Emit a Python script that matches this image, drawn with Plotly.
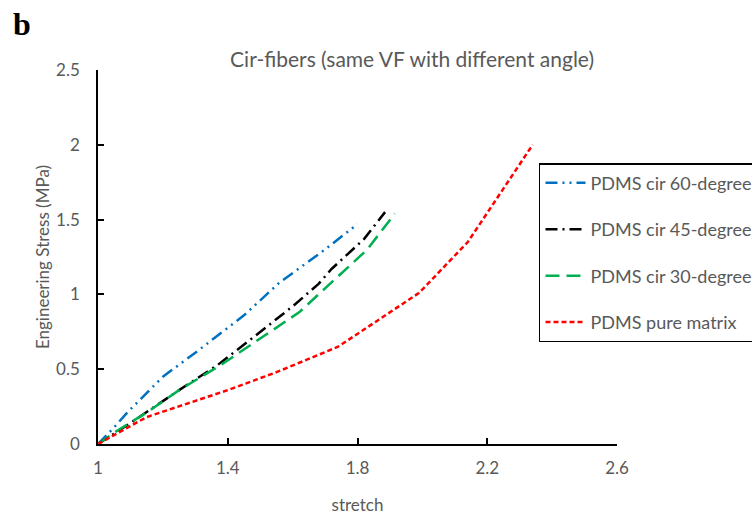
import plotly.graph_objects as go

# Stretch / engineering stress curves for circular-fiber PDMS composites
stretch_60 = [1.0, 1.045, 1.09, 1.2, 1.3, 1.45, 1.56, 1.7, 1.8]
stress_60 = [0.0, 0.10, 0.21, 0.45, 0.61, 0.86, 1.08, 1.30, 1.47]

stretch_45 = [1.0, 1.1, 1.25, 1.37, 1.48, 1.6, 1.68, 1.72, 1.82, 1.885]
stress_45 = [0.0, 0.14, 0.36, 0.53, 0.715, 0.92, 1.07, 1.17, 1.37, 1.55]

stretch_30 = [1.0, 1.06, 1.15, 1.25, 1.38, 1.48, 1.62, 1.72, 1.83, 1.915]
stress_30 = [0.0, 0.09, 0.21, 0.36, 0.53, 0.675, 0.88, 1.08, 1.30, 1.54]

stretch_pure = [1.0, 1.15, 1.4, 1.55, 1.74, 1.99, 2.14, 2.22, 2.34]
stress_pure = [0.0, 0.18, 0.36, 0.48, 0.65, 1.01, 1.35, 1.61, 2.0]

series_names = ["PDMS cir 60-degree", "PDMS cir 45-degree",
                "PDMS cir 30-degree", "PDMS pure matrix"]

x_ticks = [1, 1.4, 1.8, 2.2, 2.6]
x_tick_text = ["1", "1.4", "1.8", "2.2", "2.6"]
y_ticks = [0, 0.5, 1, 1.5, 2, 2.5]
y_tick_text = ["0", "0.5", "1", "1.5", "2", "2.5"]

FONT = "Lato, Open Sans, sans-serif"
GREY = "#595959"

styles = [
    dict(color="#0070C0", dash="12px,5px,2px,5px,2px,5px"),
    dict(color="#000000", dash="12px,5px,2px,5px"),
    dict(color="#00B050", dash="14px,7px"),
    dict(color="#FF0000", dash="5px,3px"),
]

fig = go.Figure()
for i, (xs, ys) in enumerate([(stretch_60, stress_60), (stretch_45, stress_45),
                              (stretch_30, stress_30), (stretch_pure, stress_pure)]):
    fig.add_trace(go.Scatter(
        x=xs, y=ys, mode="lines", name=series_names[i],
        legendgroup=f"g{i}",
        line=dict(color=styles[i]["color"], dash=styles[i]["dash"], width=2.5),
    ))

axis_common = dict(
    showgrid=False, zeroline=False, showline=True, linecolor="#000000",
    linewidth=1.5, ticks="inside", ticklen=6, tickwidth=1.5, tickcolor="#000000",
    tickfont=dict(family=FONT, size=17, color=GREY),
)

fig.update_layout(
    width=752, height=518,
    paper_bgcolor="white", plot_bgcolor="white",
    margin=dict(l=98, r=135, t=70, b=74, autoexpand=False),
    title=dict(text="Cir-fibers (same VF with different angle)",
               font=dict(family=FONT, size=21, color=GREY),
               x=0.548, xanchor="center", y=0.885, yanchor="middle"),
    xaxis=dict(range=[1, 2.6], tickvals=x_ticks, ticktext=x_tick_text,
               ticklabelstandoff=8,
               title=dict(text="stretch", font=dict(family=FONT, size=17, color=GREY),
                          standoff=22),
               **axis_common),
    yaxis=dict(range=[0, 2.5], tickvals=y_ticks, ticktext=y_tick_text,
               ticklabelstandoff=13,
               title=dict(text="Engineering Stress (MPa)",
                          font=dict(family=FONT, size=17, color=GREY), standoff=2),
               **axis_common),
    legend=dict(x=0.8497, y=0.751, xanchor="left", yanchor="top",
                bordercolor="#000000", borderwidth=1.5, bgcolor="white",
                font=dict(family=FONT, size=18, color=GREY),
                traceorder="grouped", tracegroupgap=20, itemwidth=40),
    showlegend=True,
    annotations=[dict(text="<b>b</b>", xref="paper", yref="paper",
                      x=-0.167, y=1.123, xanchor="left", yanchor="middle",
                      showarrow=False,
                      font=dict(family="Liberation Serif, Times New Roman, serif",
                                size=32, color="#000000"))],
)

fig.write_html("out.html")
